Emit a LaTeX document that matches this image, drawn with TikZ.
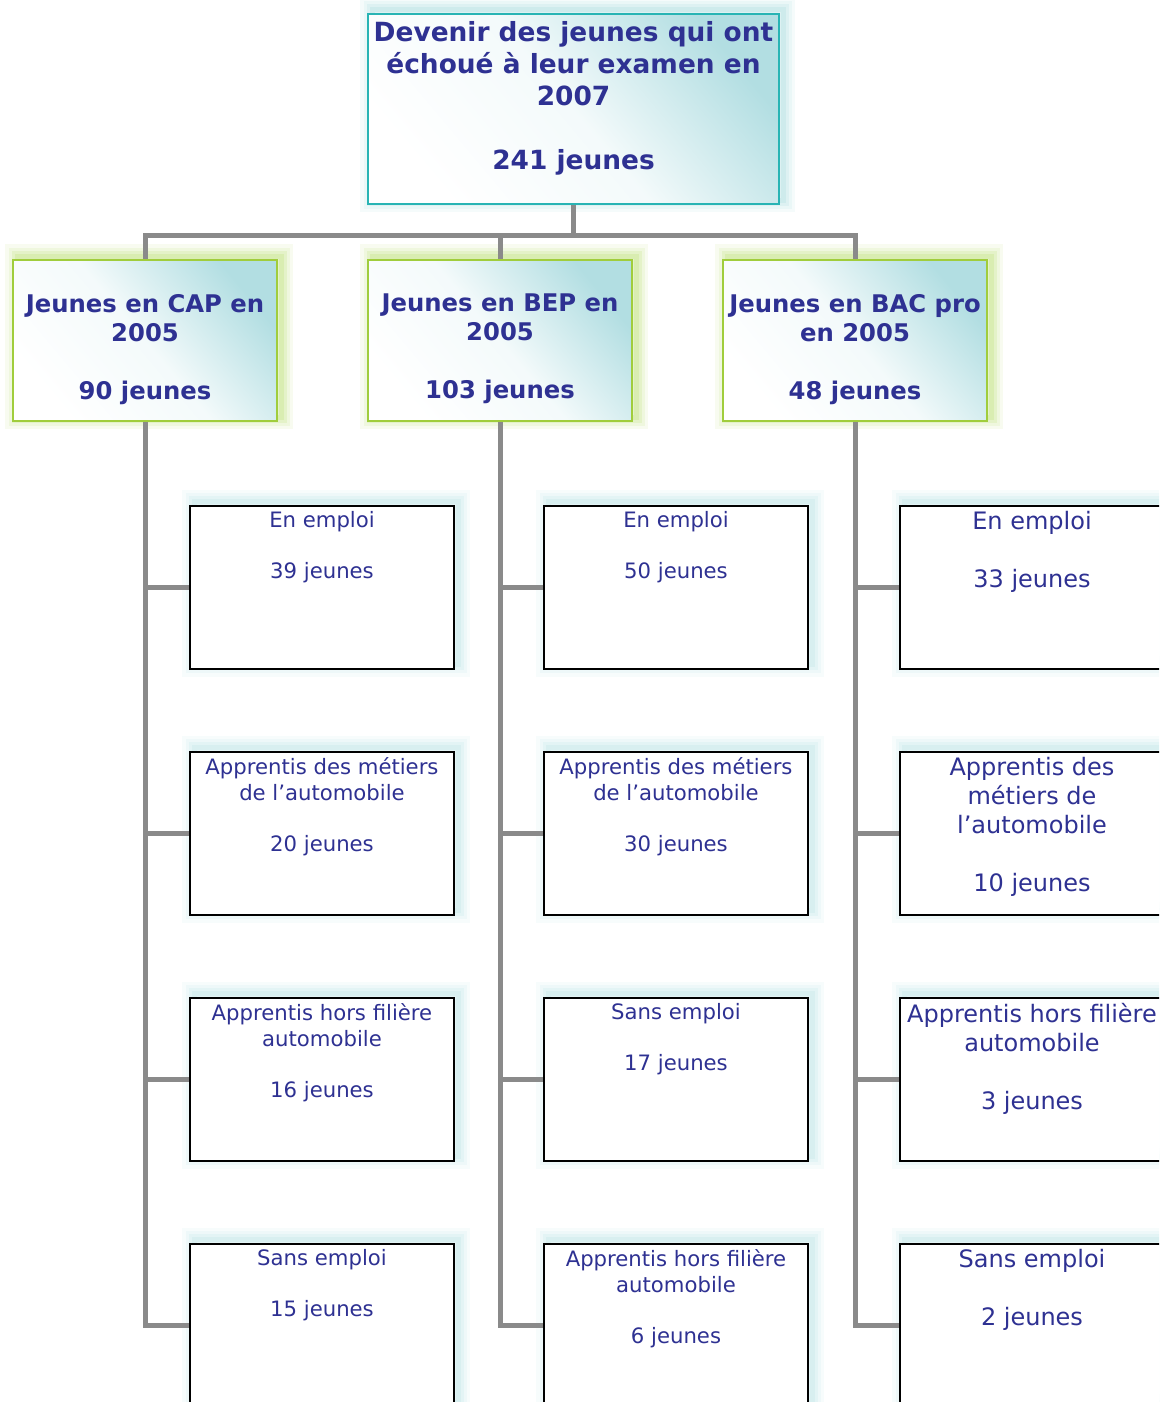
\documentclass[tikz,border=0pt]{standalone}
\usepackage{fontspec}
\setmainfont{DejaVu Sans}
\usetikzlibrary{positioning}

\definecolor{textblue}{RGB}{46,49,146}
\definecolor{linegray}{RGB}{138,138,138}
\definecolor{tealborder}{RGB}{40,180,180}
\definecolor{tealglow}{RGB}{120,200,204}
\definecolor{tealfill}{RGB}{178,222,226}
\definecolor{greenborder}{RGB}{160,205,60}
\definecolor{greenglow}{RGB}{150,205,40}

\tikzset{
  conn/.style={draw=linegray, line width=5pt},
  glow/.style={
    preaction={draw=#1, line width=24pt, opacity=.07, transform canvas={xshift=4pt,yshift=4pt}},
    preaction={draw=#1, line width=17pt, opacity=.09, transform canvas={xshift=4pt,yshift=4pt}},
    preaction={draw=#1, line width=11pt, opacity=.12, transform canvas={xshift=4pt,yshift=4pt}},
    preaction={draw=#1, line width=5pt, opacity=.15, transform canvas={xshift=4pt,yshift=4pt}}},
  topbox/.style={rectangle, draw=tealborder, line width=2pt, minimum width=411pt, minimum height=190pt,
    top color=tealfill, bottom color=white, middle color=white!85!tealfill, shading angle=-50, glow=tealglow},
  levelbox/.style={rectangle, draw=greenborder, line width=2pt, minimum width=264pt, minimum height=161pt,
    top color=tealfill, bottom color=white, middle color=white!85!tealfill, shading angle=-50, glow=greenglow},
  subbox/.style={rectangle, draw=black, line width=2pt, fill=white, minimum width=264pt, minimum height=163pt, glow=tealglow!80},
  toptext/.style={anchor=north, align=center, text=textblue, inner sep=3pt, yshift=-5pt, font=\bfseries\fontsize{26.4}{32}\selectfont},
  leveltext/.style={anchor=north, align=center, text=textblue, inner sep=3pt, yshift=-32pt, font=\bfseries\fontsize{24.3}{29}\selectfont},
  subtext/.style={anchor=north, align=center, text=textblue, inner sep=3pt, yshift=-4pt, font=\fontsize{21.2}{25.5}\selectfont},
  bigtext/.style={anchor=north, align=center, text=textblue, inner sep=3pt, yshift=-4pt, font=\fontsize{24}{29}\selectfont},
}

\begin{document}
\begin{tikzpicture}[x=1pt, y=-1pt, node distance=81pt and 88pt]
    \useasboundingbox (0,0) rectangle (1159,1402);
    \clip (0,0) rectangle (1159,1402);

    % top of the tree
    \node (top) [topbox, label={[toptext]north:Devenir des jeunes qui ont\\échoué à leur examen en\\2007\\~\\241 jeunes}] at (573.5,109) {};

    % one box per diploma
    \node (cap) [levelbox, label={[leveltext]north:Jeunes en CAP en\\2005\\~\\90 jeunes}] at (145,340.5) {};
    \node (bep) [levelbox, right=89pt of cap, label={[leveltext]north:Jeunes en BEP en\\2005\\~\\103 jeunes}] {};
    \node (bac) [levelbox, right=89pt of bep, label={[leveltext]north:Jeunes en BAC pro\\en 2005\\~\\48 jeunes}] {};

    % CAP
    \node (capA) [subbox, label={[subtext]north:En emploi\\~\\39 jeunes}] at (322,587) {};
    \node (capB) [subbox, below=of capA, label={[subtext]north:Apprentis des métiers\\de l’automobile\\~\\20 jeunes}] {};
    \node (capC) [subbox, below=of capB, label={[subtext]north:Apprentis hors filière\\automobile\\~\\16 jeunes}] {};
    \node (capD) [subbox, below=of capC, label={[subtext]north:Sans emploi\\~\\15 jeunes}] {};

    % BEP
    \node (bepA) [subbox, right=of capA, label={[subtext]north:En emploi\\~\\50 jeunes}] {};
    \node (bepB) [subbox, below=of bepA, label={[subtext]north:Apprentis des métiers\\de l’automobile\\~\\30 jeunes}] {};
    \node (bepC) [subbox, below=of bepB, label={[subtext]north:Sans emploi\\~\\17 jeunes}] {};
    \node (bepD) [subbox, below=of bepC, label={[subtext]north:Apprentis hors filière\\automobile\\~\\6 jeunes}] {};

    % BAC pro
    \node (bacA) [subbox, right=90pt of bepA, label={[bigtext]north:En emploi\\~\\33 jeunes}] {};
    \node (bacB) [subbox, below=of bacA, label={[bigtext]north:Apprentis des\\métiers de\\l’automobile\\~\\10 jeunes}] {};
    \node (bacC) [subbox, below=of bacB, label={[bigtext]north:Apprentis hors filière\\automobile\\~\\3 jeunes}] {};
    \node (bacD) [subbox, below=of bacC, label={[bigtext]north:Sans emploi\\~\\2 jeunes}] {};

    \draw [conn] (top.south) -- ++(0,30) -| (cap.north);
    \draw [conn] (top.south) -- ++(0,30) -| (bep.north);
    \draw [conn] (top.south) -- ++(0,30) -| (bac.north);

    \draw [conn] (cap.south) |- (capA.west);
    \draw [conn] (cap.south) |- (capB.west);
    \draw [conn] (cap.south) |- (capC.west);
    \draw [conn] (cap.south) |- (capD.west);

    \draw [conn] (bep.south) |- (bepA.west);
    \draw [conn] (bep.south) |- (bepB.west);
    \draw [conn] (bep.south) |- (bepC.west);
    \draw [conn] (bep.south) |- (bepD.west);

    \draw [conn] (bac.south) |- (bacA.west);
    \draw [conn] (bac.south) |- (bacB.west);
    \draw [conn] (bac.south) |- (bacC.west);
    \draw [conn] (bac.south) |- (bacD.west);
\end{tikzpicture}
\end{document}
